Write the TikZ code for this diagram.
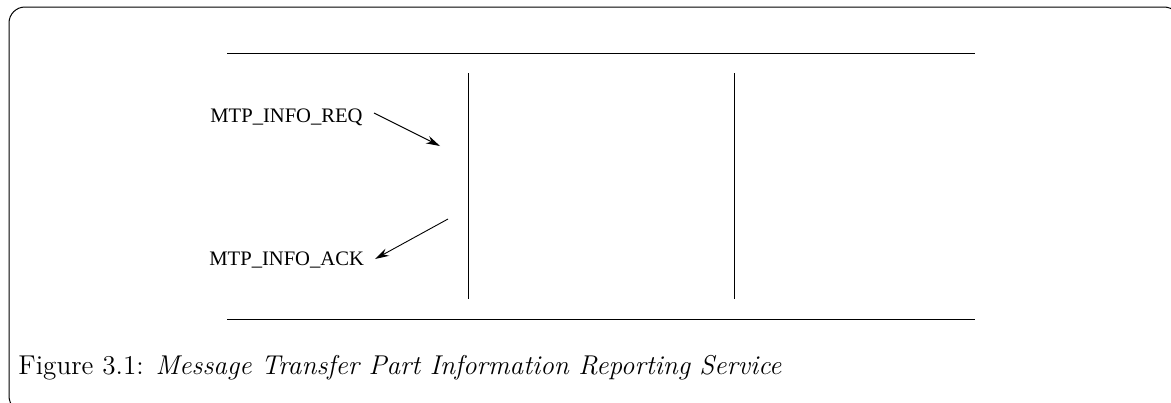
\documentclass[tikz,border=0pt]{standalone}
\usepackage{fontspec}
\newfontfamily\timesfont{Liberation Serif}
\usetikzlibrary{arrows.meta}
\tikzset{
  rule/.style={line width=0.45pt},
  msg/.style={line width=0.45pt,-{Stealth[length=7pt,width=4pt]}},
  prim/.style={font=\timesfont\fontsize{10.3}{12}\selectfont,anchor=base west,inner sep=0pt},
  frame/.style={line width=0.5pt,rounded corners=8pt}
}
\begin{document}
\begin{tikzpicture}[x=0.5pt,y=-0.5pt]
\useasboundingbox (0,0) rectangle (1171,402);
\begin{scope}
\clip (0,0) rectangle (1171,402);
\draw[frame] (9,7) rectangle (1180,412);
\end{scope}
% service boundary lines
\coordinate (t1) at (227,53); \coordinate (t2) at (975,53);
\coordinate (b1) at (227,319); \coordinate (b2) at (975,319);
\draw[rule] (t1) -- (t2);
\draw[rule] (b1) -- (b2);
\coordinate (v1a) at (468,73); \coordinate (v1b) at (468,299);
\coordinate (v2a) at (734,73); \coordinate (v2b) at (734,299);
\draw[rule] (v1a) -- (v1b);
\draw[rule] (v2a) -- (v2b);
% primitives
\node[prim] (req) at (210,122) {MTP\_INFO\_REQ};
\node[prim] (ack) at (209,265) {MTP\_INFO\_ACK};
\coordinate (reqs) at (374,113);
\coordinate (reqe) at (440,146);
\coordinate (acks) at (448,219);
\coordinate (acke) at (375,259);
\draw[msg] (reqs) -- (reqe);
\draw[msg] (acks) -- (acke);
% caption
\node[anchor=base west,inner sep=0pt,font=\fontsize{13.6}{16}\selectfont] (cap) at (18,374) {Figure 3.1: \textit{Message Transfer Part Information Reporting Service}};
\end{tikzpicture}
\end{document}
